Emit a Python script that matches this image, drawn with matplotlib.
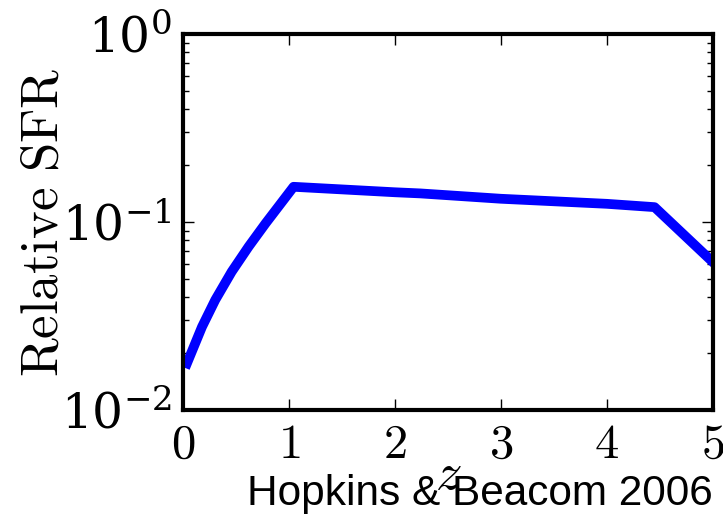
import matplotlib
matplotlib.use("Agg")
import matplotlib.pyplot as plt

plt.rcParams['mathtext.fontset'] = 'cm'
plt.rcParams['font.family'] = 'serif'
plt.rcParams['font.serif'] = ['DejaVu Serif']

# star formation rate vs redshift (Hopkins & Beacom 2006 fit)
z = [0.038, 0.18, 0.305, 0.46, 0.62, 0.78, 0.935, 1.044,
     2.0, 2.24, 3.0, 4.0, 4.45, 5.0]
sfr = [0.0177, 0.0277, 0.0385, 0.0544, 0.0740, 0.0984, 0.128, 0.154,
       0.144, 0.142, 0.133, 0.125, 0.120, 0.0612]

fig = plt.figure(figsize=(7.23, 5.2), dpi=100)
ax = fig.add_axes([0.253, 0.2115, 0.733, 0.723])

ax.plot(z, sfr, color='blue', lw=7, solid_joinstyle='round')
ax.set_yscale('log')
ax.set_xlim(0, 5)
ax.set_ylim(1e-2, 1e0)

ax.set_xlabel(r'$z$', fontsize=38, labelpad=-14)
ax.set_ylabel(r'$\mathrm{Relative\ SFR}$', fontsize=38, labelpad=-6)

for s in ax.spines.values():
    s.set_linewidth(3)
ax.tick_params(which='both', direction='in', top=True, right=True, labelsize=35)
ax.tick_params(which='major', length=8, width=1, pad=8)
ax.tick_params(which='minor', length=4, width=1)
ax.set_xticks([0, 1, 2, 3, 4, 5])
ax.set_xticklabels([r'$0$', r'$1$', r'$2$', r'$3$', r'$4$', r'$5$'])

fig.text(0.986, 0.012, 'Hopkins & Beacom 2006', ha='right', va='bottom',
         fontsize=30.5, family='Liberation Sans')

fig.savefig('out.png', dpi=100)
